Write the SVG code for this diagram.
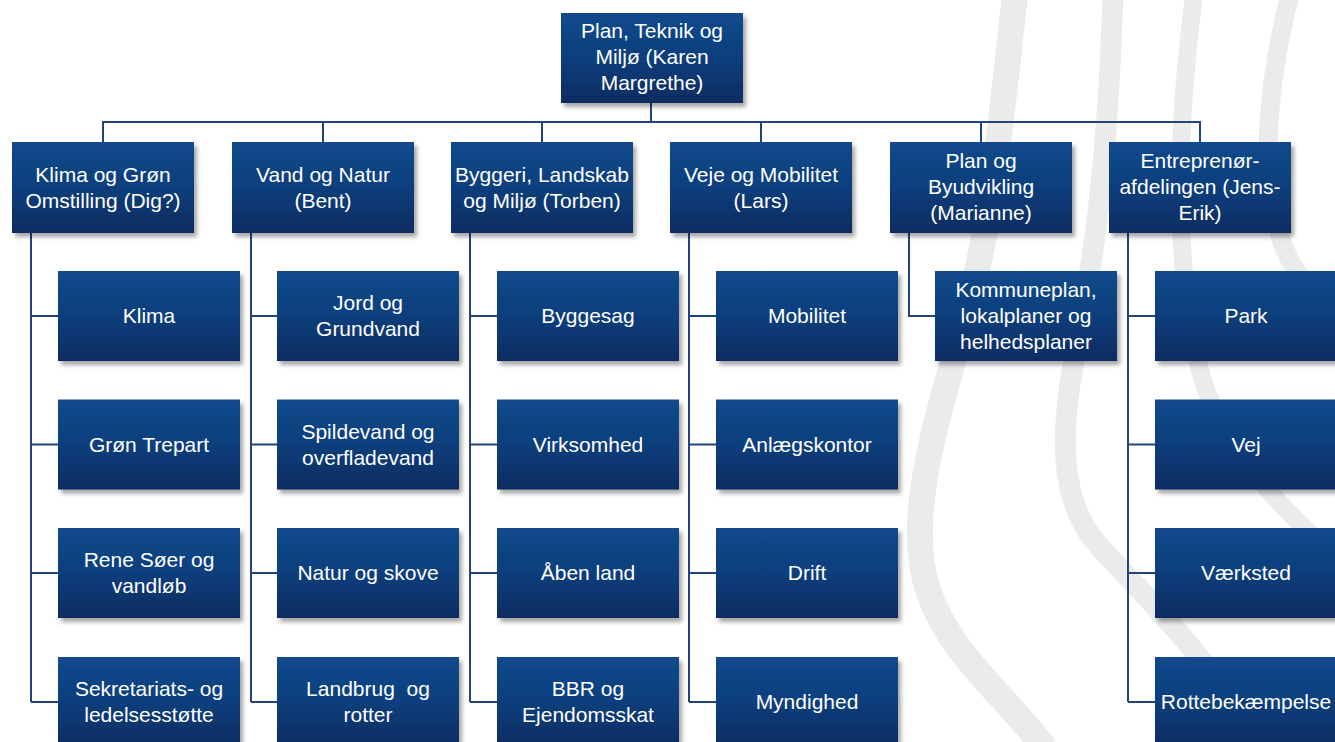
<svg xmlns="http://www.w3.org/2000/svg" width="1335" height="742" viewBox="0 0 1335 742">
<defs>
<linearGradient id="boxGrad" x1="0" y1="0" x2="0" y2="1">
<stop offset="0" stop-color="#124a8c"/>
<stop offset="0.45" stop-color="#0f407e"/>
<stop offset="1" stop-color="#0a2c61"/>
</linearGradient>
<filter id="shadow" x="-10%" y="-10%" width="125%" height="130%">
<feDropShadow dx="3" dy="4" stdDeviation="2.2" flood-color="#000" flood-opacity="0.35"/>
</filter>
<style>
.box{fill:url(#boxGrad);filter:url(#shadow);}
.lbl{font-family:"Liberation Sans",Arial,sans-serif;font-size:21px;fill:#ffffff;text-anchor:middle;}
.conn{fill:none;stroke:#21447a;stroke-width:2;}
.band{fill:none;stroke:#ebebeb;stroke-linecap:butt;}
</style>
</defs>
<rect x="0" y="0" width="1335" height="742" fill="#ffffff"/>
<g id="watermark">
<path class="band" stroke-width="26" d="M1015,-5 C1002,110 992,230 962,330 C935,425 905,520 928,590 C950,655 1000,690 1045,748"/>
<path class="band" stroke-width="21" d="M1113,-5 C1108,150 1096,250 1076,350 C1060,430 1058,500 1098,545 C1140,592 1200,645 1262,748"/>
<path class="band" stroke-width="18" d="M1194,-5 C1178,120 1172,260 1200,370 C1218,440 1270,500 1345,565"/>
<path class="band" stroke-width="19" d="M1290,-5 C1268,80 1258,180 1283,245 C1297,280 1318,300 1345,322"/>
</g>
<g id="connectors">
<path class="conn" d="M651,103 V122 M103,143 V122 H1200 V143 M323,122 V143 M542,122 V143 M761,122 V143 M981,122 V143"/>
<path class="conn" d="M31,233 V702 M31,316 H58 M31,444.5 H58 M31,573 H58 M31,702 H58"/>
<path class="conn" d="M251,233 V702 M251,316 H277 M251,444.5 H277 M251,573 H277 M251,702 H277"/>
<path class="conn" d="M470,233 V702 M470,316 H497 M470,444.5 H497 M470,573 H497 M470,702 H497"/>
<path class="conn" d="M689,233 V702 M689,316 H716 M689,444.5 H716 M689,573 H716 M689,702 H716"/>
<path class="conn" d="M909,233 V316 H935"/>
<path class="conn" d="M1128,233 V702 M1128,316 H1155 M1128,444.5 H1155 M1128,573 H1155 M1128,702 H1155"/>
</g>
<g id="top"><rect class="box" x="561" y="13" width="182" height="90"/><text class="lbl" x="652" y="38">Plan, Teknik og</text><text class="lbl" x="652" y="64">Miljø (Karen</text><text class="lbl" x="652" y="90">Margrethe)</text></g>
<g id="klima"><rect class="box" x="12" y="142" width="182" height="91"/><text class="lbl" x="103" y="182">Klima og Grøn</text><text class="lbl" x="103" y="208">Omstilling (Dig?)</text></g>
<g id="vand"><rect class="box" x="232" y="142" width="182" height="91"/><text class="lbl" x="323" y="182">Vand og Natur</text><text class="lbl" x="323" y="208">(Bent)</text></g>
<g id="byggeri"><rect class="box" x="451" y="142" width="182" height="91"/><text class="lbl" x="542" y="182">Byggeri, Landskab</text><text class="lbl" x="542" y="208">og Miljø (Torben)</text></g>
<g id="veje"><rect class="box" x="670" y="142" width="182" height="91"/><text class="lbl" x="761" y="182">Veje og Mobilitet</text><text class="lbl" x="761" y="208">(Lars)</text></g>
<g id="planby"><rect class="box" x="890" y="142" width="182" height="91"/><text class="lbl" x="981" y="168">Plan og</text><text class="lbl" x="981" y="194">Byudvikling</text><text class="lbl" x="981" y="220">(Marianne)</text></g>
<g id="entrepr"><rect class="box" x="1109" y="142" width="182" height="91"/><text class="lbl" x="1200" y="168">Entreprenør-</text><text class="lbl" x="1200" y="194">afdelingen (Jens-</text><text class="lbl" x="1200" y="220">Erik)</text></g>

<g id="c-klima"><rect class="box" x="58" y="271" width="182" height="90"/><text class="lbl" x="149" y="323">Klima</text></g>
<g id="c-groen"><rect class="box" x="58" y="399.5" width="182" height="90"/><text class="lbl" x="149" y="451.5">Grøn Trepart</text></g>
<g id="c-rene"><rect class="box" x="58" y="528" width="182" height="90"/><text class="lbl" x="149" y="567">Rene Søer og</text><text class="lbl" x="149" y="593">vandløb</text></g>
<g id="c-sekr"><rect class="box" x="58" y="657" width="182" height="90"/><text class="lbl" x="149" y="696">Sekretariats- og</text><text class="lbl" x="149" y="722">ledelsesstøtte</text></g>

<g id="c-jord"><rect class="box" x="277" y="271" width="182" height="90"/><text class="lbl" x="368" y="310">Jord og</text><text class="lbl" x="368" y="336">Grundvand</text></g>
<g id="c-spilde"><rect class="box" x="277" y="399.5" width="182" height="90"/><text class="lbl" x="368" y="438.5">Spildevand og</text><text class="lbl" x="368" y="464.5">overfladevand</text></g>
<g id="c-natur"><rect class="box" x="277" y="528" width="182" height="90"/><text class="lbl" x="368" y="580">Natur og skove</text></g>
<g id="c-landbrug"><rect class="box" x="277" y="657" width="182" height="90"/><text class="lbl" x="368" y="696">Landbrug&#160; og</text><text class="lbl" x="368" y="722">rotter</text></g>

<g id="c-byggesag"><rect class="box" x="497" y="271" width="182" height="90"/><text class="lbl" x="588" y="323">Byggesag</text></g>
<g id="c-virk"><rect class="box" x="497" y="399.5" width="182" height="90"/><text class="lbl" x="588" y="451.5">Virksomhed</text></g>
<g id="c-aaben"><rect class="box" x="497" y="528" width="182" height="90"/><text class="lbl" x="588" y="580">Åben land</text></g>
<g id="c-bbr"><rect class="box" x="497" y="657" width="182" height="90"/><text class="lbl" x="588" y="696">BBR og</text><text class="lbl" x="588" y="722">Ejendomsskat</text></g>

<g id="c-mobil"><rect class="box" x="716" y="271" width="182" height="90"/><text class="lbl" x="807" y="323">Mobilitet</text></g>
<g id="c-anlaeg"><rect class="box" x="716" y="399.5" width="182" height="90"/><text class="lbl" x="807" y="451.5">Anlægskontor</text></g>
<g id="c-drift"><rect class="box" x="716" y="528" width="182" height="90"/><text class="lbl" x="807" y="580">Drift</text></g>
<g id="c-myn"><rect class="box" x="716" y="657" width="182" height="90"/><text class="lbl" x="807" y="709">Myndighed</text></g>

<g id="c-kommune"><rect class="box" x="935" y="271" width="182" height="90"/><text class="lbl" x="1026" y="297">Kommuneplan,</text><text class="lbl" x="1026" y="323">lokalplaner og</text><text class="lbl" x="1026" y="349">helhedsplaner</text></g>

<g id="c-park"><rect class="box" x="1155" y="271" width="182" height="90"/><text class="lbl" x="1246" y="323">Park</text></g>
<g id="c-vej"><rect class="box" x="1155" y="399.5" width="182" height="90"/><text class="lbl" x="1246" y="451.5">Vej</text></g>
<g id="c-vaerk"><rect class="box" x="1155" y="528" width="182" height="90"/><text class="lbl" x="1246" y="580">Værksted</text></g>
<g id="c-rotte"><rect class="box" x="1155" y="657" width="182" height="90"/><text class="lbl" x="1246" y="709">Rottebekæmpelse</text></g>
</svg>
